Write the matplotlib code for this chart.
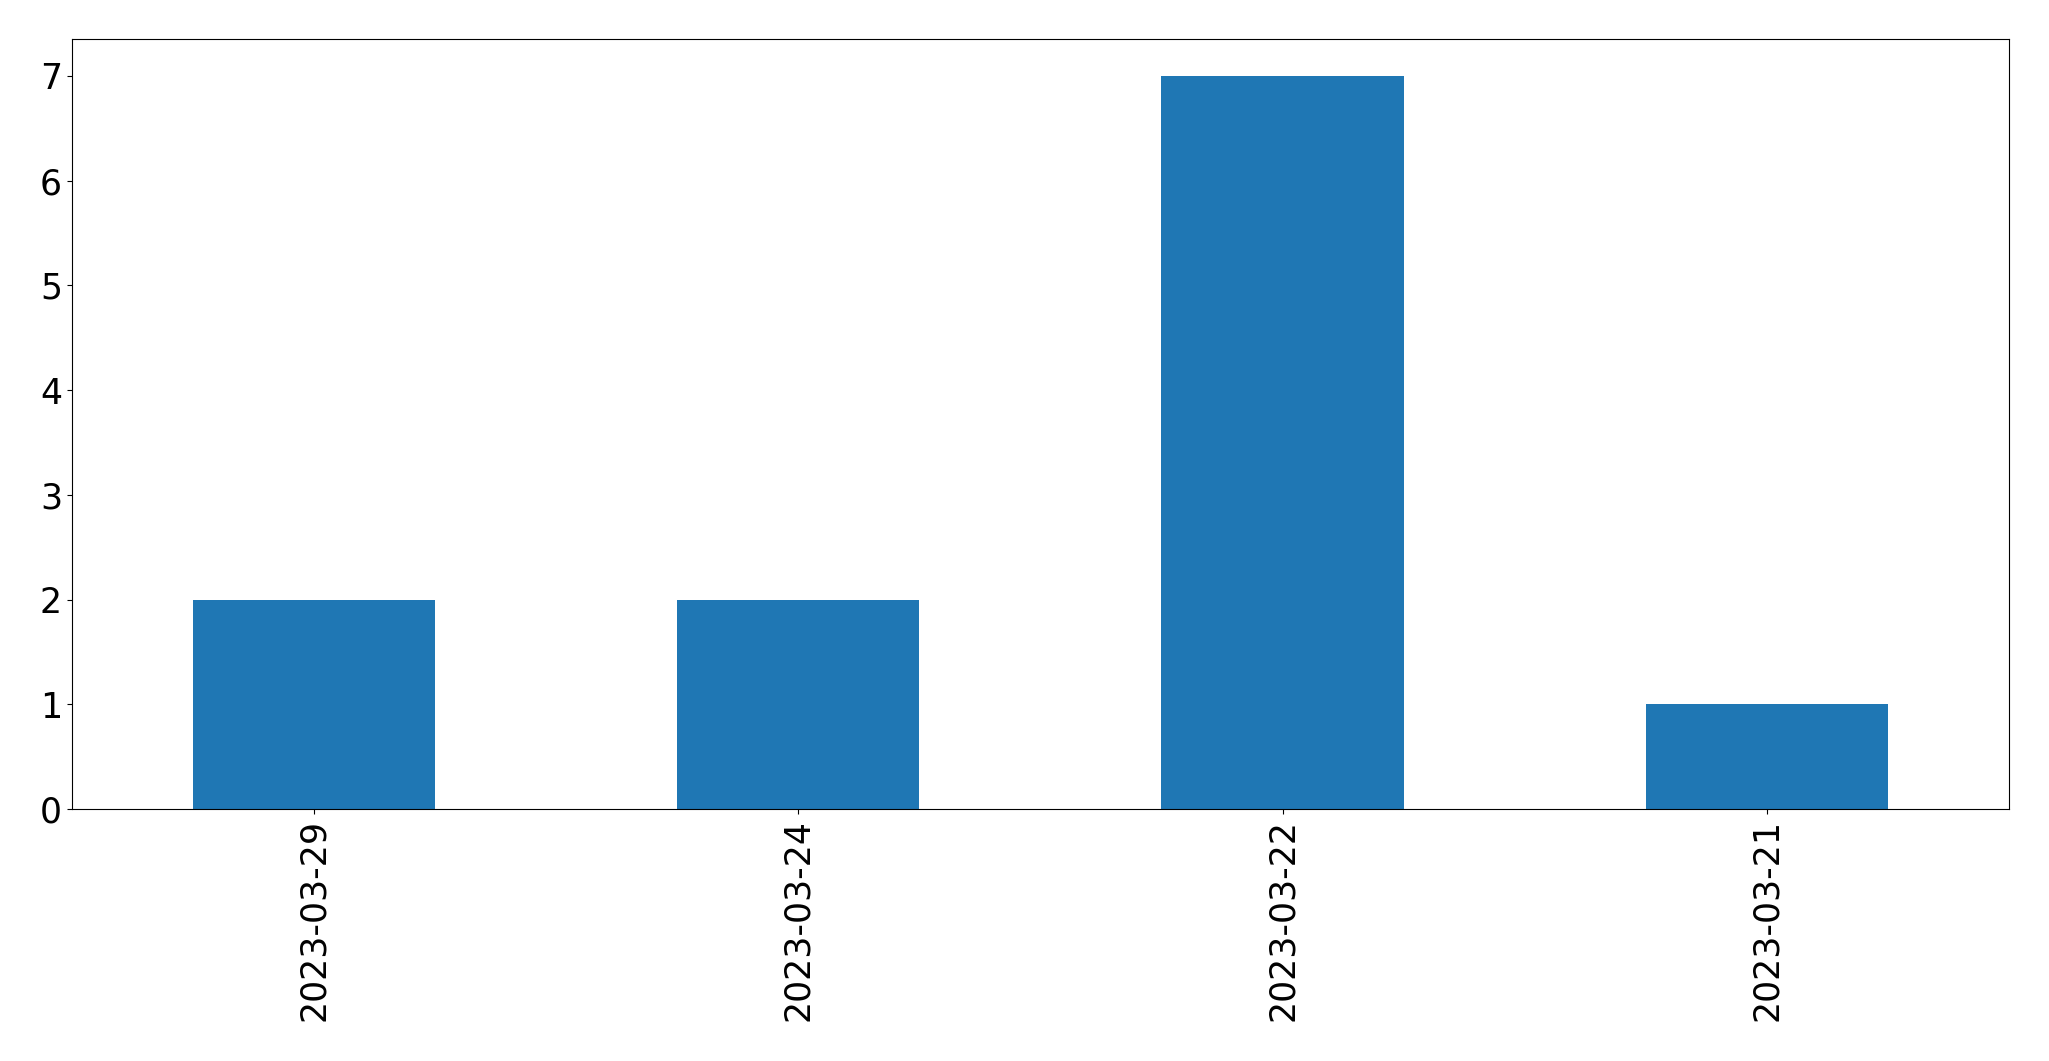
import matplotlib
matplotlib.use('Agg')
from matplotlib import pyplot as plt
import pandas as pd

dates = ['2023-03-29', '2023-03-24', '2023-03-22', '2023-03-21']
counts = [2, 2, 7, 1]

s = pd.Series(counts, index=dates)

fig = plt.figure(figsize=(20.49, 10.61), dpi=100)
ax = fig.add_axes([0.035, 0.2375, 0.9455, 0.7255])
s.plot(kind='bar', ax=ax, color='#1f77b4', fontsize=25)

fig.savefig('out.png', dpi=100)
